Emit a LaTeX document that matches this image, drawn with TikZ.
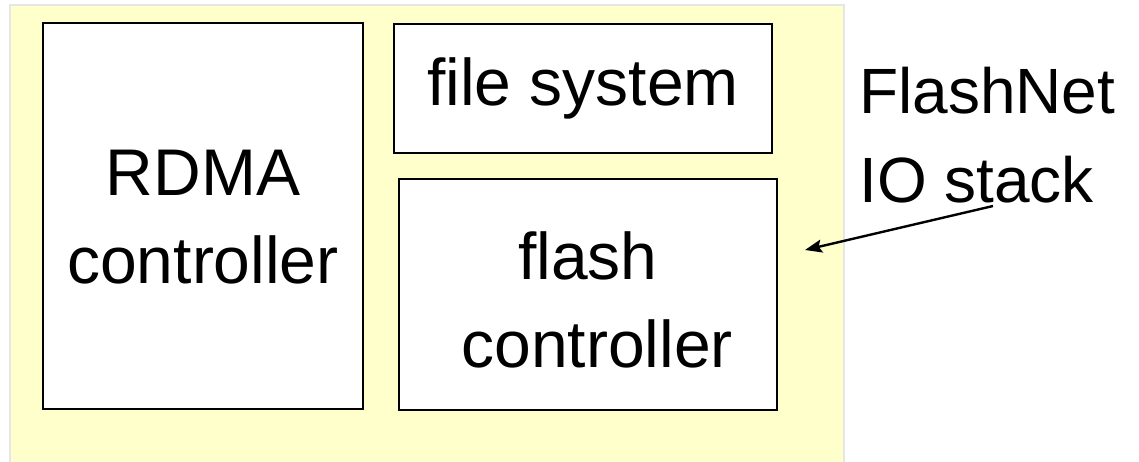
\documentclass[tikz,border=0pt]{standalone}
\usepackage{fontspec}
\setmainfont{Liberation Sans}
\usetikzlibrary{arrows.meta}
\definecolor{bgyellow}{HTML}{FFFFCC}
\definecolor{bgedge}{HTML}{E6E6E6}
\tikzset{
  unitbox/.style={draw=black, line width=1.6pt, fill=white, inner sep=0pt, align=center,
    font=\fontsize{66}{88}\selectfont},
  biglabel/.style={inner sep=0pt, align=left, font=\fontsize{64}{89}\selectfont},
  pointer/.style={line width=2.4pt, -{Stealth[length=17pt,width=13pt,inset=3pt]}}
}
\begin{document}
\begin{tikzpicture}[x=1pt,y=-1pt]
\useasboundingbox (0,0) rectangle (1139,461);
\fill[white] (0,0) rectangle (1139,461);
\draw[bgedge, line width=2pt, fill=bgyellow] (10,5) -- (10,470) -- (844,470) -- (844,5) -- cycle;
\node[unitbox, minimum width=320pt, minimum height=386pt] (rdma) at (203,216) {\rule{0pt}{48pt}RDMA\\controller};
\node[unitbox, minimum width=378pt, minimum height=129pt] (fs) at (583,88.5) {file system};
\node[unitbox, minimum width=378pt, minimum height=231pt] (flash) at (588,294.5) {\rule{0pt}{58pt}flash\\\ controller};
\node[biglabel, anchor=base west] (io) at (859,202) {FlashNet\\IO stack};
\coordinate (ptrstart) at (993,206);
\coordinate (ptrend) at (805,250);
\draw[pointer] (ptrstart) -- (ptrend);
\end{tikzpicture}
\end{document}
